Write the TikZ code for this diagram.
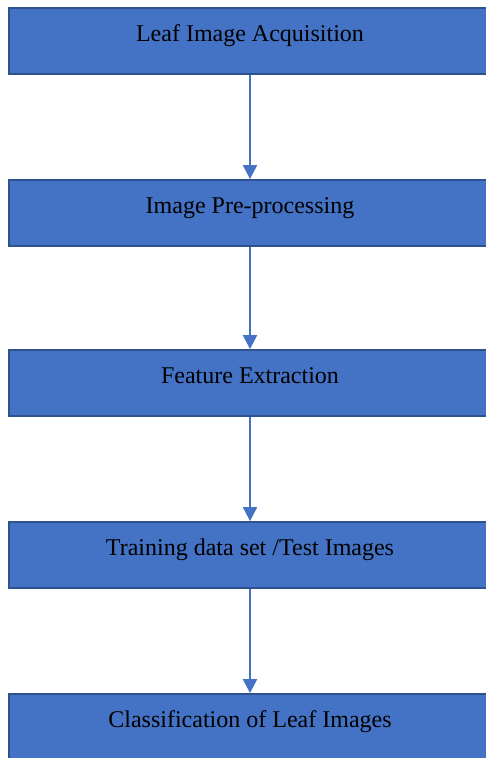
\documentclass[tikz,border=0pt]{standalone}
\usepackage{fontspec}
\setmainfont{Liberation Serif}
\usetikzlibrary{arrows.meta}
\definecolor{boxblue}{HTML}{4472C4}
\definecolor{boxedge}{HTML}{2F528F}
\tikzset{
  stage/.style={draw=boxedge, line width=1.8pt, fill=boxblue, minimum width=482pt,
    inner sep=0pt, text height=33pt, text depth=33pt, align=center,
    font=\fontsize{24}{28}\selectfont},
  flow/.style={-{Triangle[length=14pt,width=14pt]}, draw=boxblue, line width=2pt}
}
\begin{document}
\begin{tikzpicture}[x=1pt,y=-1pt]
\useasboundingbox (0,0) rectangle (486,758);

\node[stage] (Acquisition) at (250,41) {Leaf Image Acquisition};
\node[stage] (Preprocessing) at (250,213) {Image Pre-processing};
\node[stage] (Features) at (250,383) {Feature Extraction};
\node[stage] (Training) at (250,555) {Training data set /Test Images};
\node[stage] (Classification) at (250,727) {Classification of Leaf Images};

\draw[flow] (Acquisition) -- (Preprocessing);
\draw[flow] (Preprocessing) -- (Features);
\draw[flow] (Features) -- (Training);
\draw[flow] (Training) -- (Classification);
\end{tikzpicture}
\end{document}
